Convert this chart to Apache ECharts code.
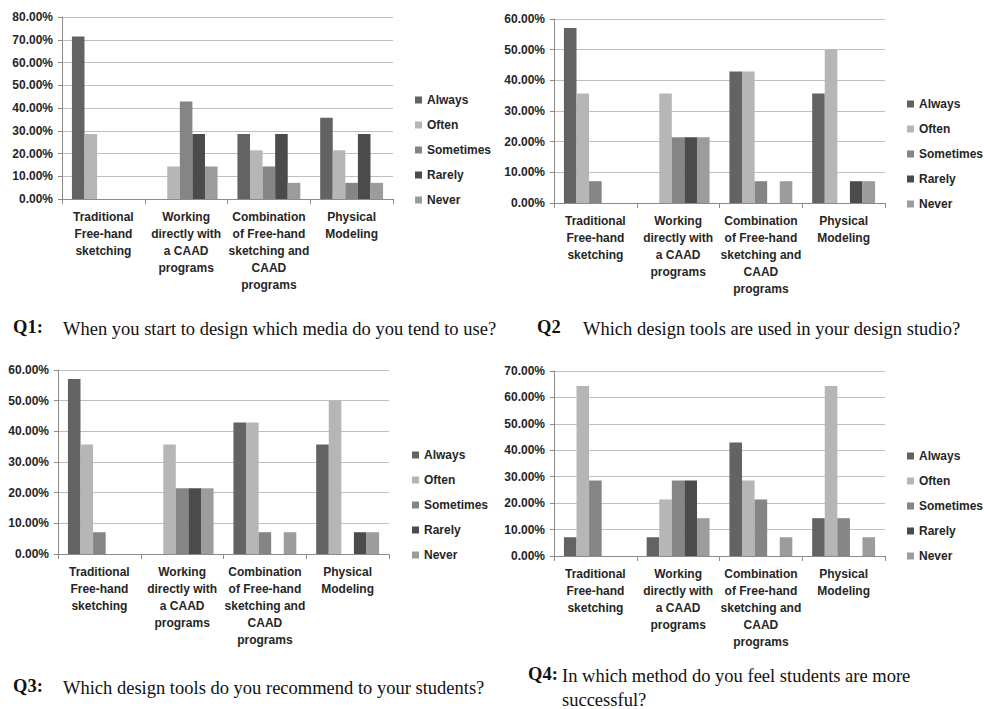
<!DOCTYPE html>
<html>
<head>
<meta charset="utf-8">
<script src="https://cdn.jsdelivr.net/npm/echarts@6/dist/echarts.min.js"></script>
<style>
html,body{margin:0;padding:0;background:#fff;}
#chart{width:984px;height:709px;}
</style>
</head>
<body>
<div id="chart"></div>
<script>
const categories = [
  "Traditional\nFree-hand\nsketching",
  "Working\ndirectly with\na CAAD\nprograms",
  "Combination\nof Free-hand\nsketching and\nCAAD\nprograms",
  "Physical\nModeling"
];
const seriesNames = ["Always", "Often", "Sometimes", "Rarely", "Never"];
const seriesColors = ["#636363", "#b6b6b6", "#858585", "#4b4b4b", "#9c9c9c"];

// Q1: When you start to design which media do you tend to use?
const q1Always    = [71.4, 0, 28.6, 35.7];
const q1Often     = [28.6, 14.3, 21.4, 21.4];
const q1Sometimes = [0, 42.9, 14.3, 7.1];
const q1Rarely    = [0, 28.6, 28.6, 28.6];
const q1Never     = [0, 14.3, 7.1, 7.1];

// Q2: Which design tools are used in your design studio?
const q2Always    = [57.1, 0, 42.9, 35.7];
const q2Often     = [35.7, 35.7, 42.9, 50.0];
const q2Sometimes = [7.1, 21.4, 7.1, 0];
const q2Rarely    = [0, 21.4, 0, 7.1];
const q2Never     = [0, 21.4, 7.1, 7.1];

// Q3: Which design tools do you recommend to your students?
const q3Always    = [57.1, 0, 42.9, 35.7];
const q3Often     = [35.7, 35.7, 42.9, 50.0];
const q3Sometimes = [7.1, 21.4, 7.1, 0];
const q3Rarely    = [0, 21.4, 0, 7.1];
const q3Never     = [0, 21.4, 7.1, 7.1];

// Q4: In which method do you feel students are more successful?
const q4Always    = [7.1, 7.1, 42.9, 14.3];
const q4Often     = [64.3, 21.4, 28.6, 64.3];
const q4Sometimes = [28.6, 28.6, 21.4, 14.3];
const q4Rarely    = [0, 28.6, 0, 0];
const q4Never     = [0, 14.3, 7.1, 7.1];

const yMax = [80, 60, 60, 70];
const yInterval = 10;

const captionLabels = ["Q1", "Q2", "Q3", "Q4"];
const captionSeps = [":", "", ":", ":"];
const captionTexts = [
  "When you start to design which media do you tend to use?",
  "Which design tools are used in your design studio?",
  "Which design tools do you recommend to your students?",
  "In which method do you feel students are more\nsuccessful?"
];

const panels = [
  [q1Always, q1Often, q1Sometimes, q1Rarely, q1Never],
  [q2Always, q2Often, q2Sometimes, q2Rarely, q2Never],
  [q3Always, q3Often, q3Sometimes, q3Rarely, q3Never],
  [q4Always, q4Often, q4Sometimes, q4Rarely, q4Never]
];

// layout
const grids = [
  {left: 62, top: 17, width: 331, height: 182},
  {left: 554, top: 19, width: 331, height: 184},
  {left: 58, top: 370, width: 331, height: 184},
  {left: 554, top: 371, width: 331, height: 185}
];
const legendPos = [
  {left: 415, top: 93},
  {left: 907, top: 97},
  {left: 412, top: 448},
  {left: 907, top: 449}
];

const sansFont = '"Liberation Sans", Arial, sans-serif';
const serifFont = '"Liberation Serif", "Times New Roman", serif';
const textColor = '#262626';

const xAxes = [], yAxes = [], series = [], legends = [];
for (let p = 0; p < 4; p++) {
  xAxes.push({
    type: 'category', gridIndex: p, data: categories,
    axisLine: {lineStyle: {color: '#8c8c8c', width: 1}},
    axisTick: {show: true, length: 5, lineStyle: {color: '#8c8c8c'}},
    axisLabel: {interval: 0, margin: 9, color: textColor, fontFamily: sansFont,
      fontWeight: 'bold', fontSize: 12, lineHeight: 17}
  });
  yAxes.push({
    type: 'value', gridIndex: p, min: 0, max: yMax[p], interval: yInterval,
    axisLine: {show: true, lineStyle: {color: '#8c8c8c', width: 1}},
    axisTick: {show: true, length: 4, lineStyle: {color: '#8c8c8c'}},
    splitLine: {lineStyle: {color: '#bfbfbf', width: 1}},
    axisLabel: {margin: 9, color: textColor, fontFamily: sansFont,
      fontWeight: 'bold', fontSize: 12,
      formatter: v => v.toFixed(2) + '%'}
  });
  for (let s = 0; s < 5; s++) {
    series.push({
      name: seriesNames[s], type: 'bar', xAxisIndex: p, yAxisIndex: p,
      data: panels[p][s], barGap: '0%', barCategoryGap: '24%',
      itemStyle: {color: seriesColors[s]}, animation: false
    });
  }
  legends.push({
    orient: 'vertical', left: legendPos[p].left, top: legendPos[p].top,
    padding: 0,
    data: seriesNames, icon: 'rect', itemWidth: 7, itemHeight: 7, itemGap: 11,
    selectedMode: false,
    textStyle: {color: textColor, fontFamily: sansFont, fontWeight: 'bold', fontSize: 12, lineHeight: 14}
  });
}

const labelPos = [
  {left: 13, top: 317},
  {left: 537, top: 317},
  {left: 13, top: 676},
  {left: 528, top: 664}
];
const textPos = [
  {left: 63, top: 317},
  {left: 583, top: 317},
  {left: 63, top: 676},
  {left: 562, top: 664}
];
const titles = [];
for (let p = 0; p < 4; p++) {
  titles.push({
    text: '{b|' + captionLabels[p] + '}{n|' + captionSeps[p] + '}',
    left: labelPos[p].left, top: labelPos[p].top, padding: 0,
    textStyle: {rich: {
      b: {fontFamily: serifFont, fontWeight: 'bold', fontSize: 18.5, color: '#111'},
      n: {fontFamily: serifFont, fontSize: 18.5, color: '#111'}
    }}
  });
  titles.push({
    text: captionTexts[p],
    left: textPos[p].left, top: textPos[p].top, padding: 0,
    textStyle: {fontFamily: serifFont, fontWeight: 'normal', fontSize: 18.5, color: '#111', lineHeight: 24}
  });
}

const chart = echarts.init(document.getElementById('chart'), null, {renderer: 'svg'});
chart.setOption({
  backgroundColor: '#ffffff',
  animation: false,
  title: titles,
  grid: grids,
  xAxis: xAxes,
  yAxis: yAxes,
  legend: legends,
  series: series
});
</script>
</body>
</html>
